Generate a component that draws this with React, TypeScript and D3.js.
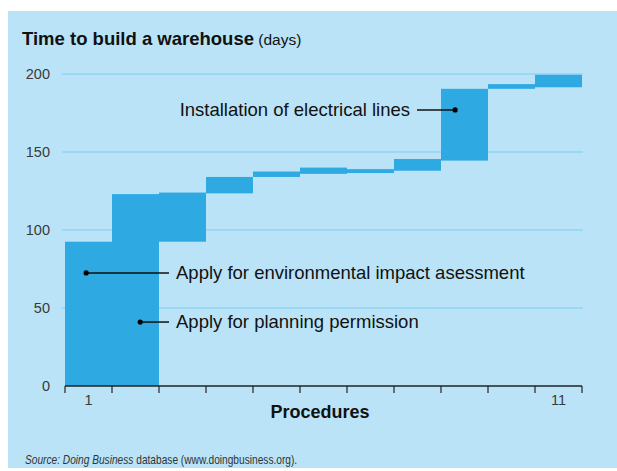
import { scaleLinear, range } from "d3";

// procedure numbers on the x axis (only first and last are labelled)
const procedures = range(1, 12);
const labelledProcedures = [1, 11];

// each procedure runs from a start day to an end day (cumulative days)
const startDays = [0, 0, 92.5, 123.5, 134, 136, 136.5, 138, 144.5, 190.5, 191.5];
const endDays = [92.5, 123, 124, 134, 137.5, 140, 139, 145.5, 190.5, 193.5, 199.5];

const yTicks = [0, 50, 100, 150, 200];

// callouts: label, procedure it points at, day value, position inside the bar
const calloutLabels = [
  "Installation of electrical lines",
  "Apply for environmental impact asessment",
  "Apply for planning permission",
];
const calloutProcedure = [9, 1, 2];
const calloutDay = [177, 72.5, 41];
const calloutOffset = [0.3, 0.45, 0.6];

const W = 617;
const H = 471;
const font = "'Liberation Sans', Arial, sans-serif";

export default function App() {
  const x = scaleLinear().domain([0, procedures.length]).range([65, 582]);
  const y = scaleLinear().domain([0, 200]).range([386, 74]);

  // text sits left or right of the dot
  const calloutText = [
    { side: "left", tx: 410, lineEnd: 417 },
    { side: "right", tx: 176, lineEnd: 169 },
    { side: "right", tx: 176, lineEnd: 169 },
  ];

  return (
    <svg
      width={W}
      height={H}
      style={{ position: "absolute", left: 0, top: 0, background: "#fff" }}
    >
      <rect x={8} y={11} width={W - 8} height={457} fill="#bae3f7" />

      <text x={22} y={45} fontFamily={font} fill="#111">
        <tspan fontWeight="bold" fontSize={18.5}>Time to build a warehouse</tspan>
        <tspan fontSize={15.5}> (days)</tspan>
      </text>

      {/* gridlines + y labels */}
      {yTicks.map((t) => (
        <g key={t}>
          {t > 0 && (
            <line x1={62} x2={583} y1={y(t)} y2={y(t)} stroke="#8fd4f5" strokeWidth={1.5} />
          )}
          <text
            x={50}
            y={y(t) + 5}
            textAnchor="end"
            fontFamily={font}
            fontSize={14.5}
            fill="#3a3a3a"
          >
            {t}
          </text>
        </g>
      ))}

      {/* bars */}
      {procedures.map((p, i) => (
        <rect
          key={p}
          x={x(i)}
          width={x(i + 1) - x(i)}
          y={y(endDays[i])}
          height={y(startDays[i]) - y(endDays[i])}
          fill="#2ea9e1"
        />
      ))}

      {/* x axis */}
      <line x1={x(0)} x2={x(procedures.length)} y1={386} y2={386} stroke="#222" strokeWidth={1.5} />
      {range(0, procedures.length + 1).map((i) => (
        <line key={i} x1={x(i)} x2={x(i)} y1={386} y2={393} stroke="#222" strokeWidth={1.2} />
      ))}
      {labelledProcedures.map((p) => (
        <text
          key={p}
          x={(x(p - 1) + x(p)) / 2}
          y={405}
          textAnchor="middle"
          fontFamily={font}
          fontSize={14.5}
          fill="#3a3a3a"
        >
          {p}
        </text>
      ))}
      <text x={320} y={418} textAnchor="middle" fontFamily={font} fontWeight="bold" fontSize={18} fill="#111">
        Procedures
      </text>

      {/* callouts */}
      {calloutLabels.map((label, i) => {
        const p = calloutProcedure[i] - 1;
        const cx = x(p) + (x(p + 1) - x(p)) * calloutOffset[i];
        const cy = y(calloutDay[i]);
        const c = calloutText[i];
        return (
          <g key={label}>
            <line x1={cx} x2={c.lineEnd} y1={cy} y2={cy} stroke="#111" strokeWidth={1.5} />
            <circle cx={cx} cy={cy} r={2.6} fill="#000" />
            <text
              x={c.tx}
              y={cy + 6}
              textAnchor={c.side === "left" ? "end" : "start"}
              fontFamily={font}
              fontSize={18.5}
              fill="#111"
            >
              {label}
            </text>
          </g>
        );
      })}

      {/* source line, squeezed horizontally like the condensed original font */}
      <g transform="translate(25,464) scale(0.82,1)">
        <text x={0} y={0} fontFamily={font} fontSize={12.4} fill="#333">
          <tspan fontStyle="italic">Source: Doing Business</tspan>
          <tspan> database (www.doingbusiness.org).</tspan>
        </text>
      </g>
    </svg>
  );
}
